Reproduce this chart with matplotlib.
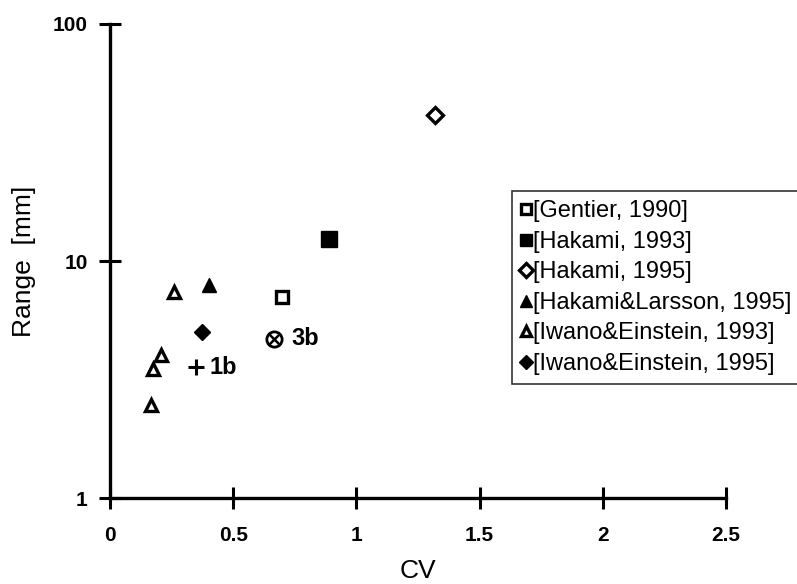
import numpy as np
import matplotlib.pyplot as plt
from matplotlib.ticker import FixedLocator, NullLocator

plt.rcParams['font.family'] = ['Liberation Sans', 'DejaVu Sans']

# data
gentier_cv = [0.70]
gentier_rng = [7.05]
hak93_cv = [0.89]
hak93_rng = [12.4]
hak95_cv = [1.32]
hak95_rng = [41.5]
hl95_cv = [0.40]
hl95_rng = [7.95]
ie93_cv = [0.26, 0.205, 0.175, 0.165]
ie93_rng = [7.4, 4.0, 3.5, 2.48]
ie95_cv = [0.375]
ie95_rng = [5.0]

pt_1b = (0.35, 3.57)
pt_3b = (0.665, 4.7)

xticks = [0, 0.5, 1, 1.5, 2, 2.5]
xticklabels = ['0', '0.5', '1', '1.5', '2', '2.5']
yticks = [1, 10, 100]

fig = plt.figure(figsize=(7.97, 5.84), dpi=100)
ax = fig.add_axes([0.138, 0.147, 0.773, 0.812])

ax.plot(gentier_cv, gentier_rng, 's', ms=9, mfc='white', mec='black', mew=2.4,
        label='[Gentier, 1990]')
ax.plot(hak93_cv, hak93_rng, 's', ms=11, mfc='black', mec='black', mew=1,
        label='[Hakami, 1993]')
ax.plot(hak95_cv, hak95_rng, 'D', ms=8.5, mfc='white', mec='black', mew=2.4,
        label='[Hakami, 1995]')
ax.plot(hl95_cv, hl95_rng, '^', ms=10, mfc='black', mec='black', mew=1,
        label='[Hakami&Larsson, 1995]')
ax.plot(ie93_cv, ie93_rng, '^', ms=9, mfc='white', mec='black', mew=2.4,
        label='[Iwano&Einstein, 1993]')
ax.plot(ie95_cv, ie95_rng, 'D', ms=8.5, mfc='black', mec='black', mew=1,
        label='[Iwano&Einstein, 1995]')

# labelled points
ax.plot([pt_1b[0]], [pt_1b[1]], '+', ms=11, mew=2.2, color='black')
ax.text(pt_1b[0] + 0.055, pt_1b[1], '1b', fontsize=17, fontweight='bold',
        va='center', ha='left')
ax.plot([pt_3b[0]], [pt_3b[1]], 'o', ms=11, mfc='white', mec='black', mew=2)
ax.plot([pt_3b[0]], [pt_3b[1]], 'x', ms=6.5, mew=1.8, color='black')
ax.text(pt_3b[0] + 0.07, pt_3b[1], '3b', fontsize=17, fontweight='bold',
        va='center', ha='left')

ax.set_yscale('log')
ax.set_xlim(0, 2.5)
ax.set_ylim(1, 100)
ax.xaxis.set_major_locator(FixedLocator(xticks))
ax.set_xticklabels(xticklabels)
ax.yaxis.set_major_locator(FixedLocator(yticks))
ax.set_yticklabels(['1', '10', '100'])
ax.yaxis.set_minor_locator(NullLocator())

for side in ['top', 'right']:
    ax.spines[side].set_visible(False)
for side in ['left', 'bottom']:
    ax.spines[side].set_linewidth(2.4)
ax.spines['left'].set_bounds(1, 100)
ax.spines['bottom'].set_bounds(0, 2.5)

ax.tick_params(axis='both', direction='inout', length=16, width=2.2)
ax.tick_params(axis='x', pad=12)
ax.tick_params(axis='y', pad=8)
for lbl in ax.get_xticklabels() + ax.get_yticklabels():
    lbl.set_fontsize(15)
    lbl.set_fontweight('bold')

ax.set_xlabel('CV', fontsize=19, labelpad=10)
ax.set_ylabel('Range  [mm]', fontsize=19, labelpad=12)

leg = ax.legend(loc='upper left', bbox_to_anchor=(512 / 797, 1 - 191 / 584),
                bbox_transform=fig.transFigure,
                frameon=True, fancybox=False, fontsize=17, markerscale=0.85,
                handlelength=0.35, handletextpad=0.15, borderpad=0.4,
                labelspacing=0.36, borderaxespad=0)
leg.get_frame().set_edgecolor('black')
leg.get_frame().set_linewidth(1.2)
leg.set_clip_on(False)

fig.savefig('out.png', dpi=100)
